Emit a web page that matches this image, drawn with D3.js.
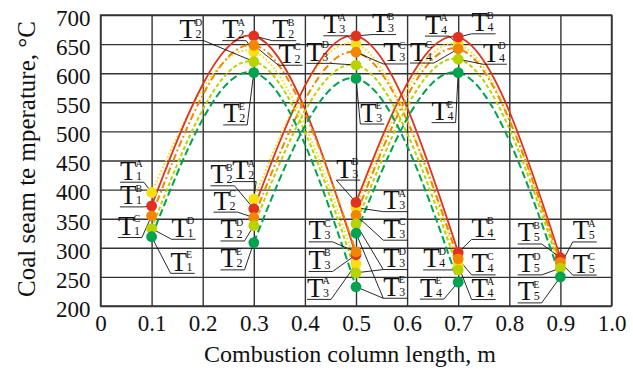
<!DOCTYPE html>
<html><head><meta charset="utf-8">
<script src="https://cdn.jsdelivr.net/npm/d3@7"></script>
<style>
body{margin:0;background:#fff}
svg{display:block}
svg text{font-family:"Liberation Serif","Times New Roman","DejaVu Serif",serif !important;}
</style>
</head><body><svg id="c" width="633" height="370"></svg>
<script>
// ---- data ----
const xTicks = [0, 0.1, 0.2, 0.3, 0.4, 0.5, 0.6, 0.7, 0.8, 0.9, 1.0];
const xTickLabels = ["0", "0.1", "0.2", "0.3", "0.4", "0.5", "0.6", "0.7", "0.8", "0.9", "1.0"];
const yTicks = [200, 250, 300, 350, 400, 450, 500, 550, 600, 650, 700];
const segmentX = [[0.1, 0.3, 0.5], [0.3, 0.5, 0.7], [0.5, 0.7, 0.9]];
const seriesKeys = ["A", "B", "C", "D", "E"];
// each series: values for segment 1, 2, 3 (start, peak, end)
const seriesA = [[395, 637, 272], [384, 650, 270], [369, 650, 270]];
const seriesB = [[372, 664, 288], [367, 664, 292], [378, 662, 283]];
const seriesC = [[355, 648, 293], [352, 636, 281], [356, 642, 275]];
const seriesD = [[333, 620, 257], [338, 614, 262], [341, 624, 265]];
const seriesE = [[319, 601, 233], [309, 591, 241], [325, 601, 250]];
const seriesValues = {A: seriesA, B: seriesB, C: seriesC, D: seriesD, E: seriesE};

// ---- styles ----
const colors = {A: "#f9df10", B: "#e2321f", C: "#f18700", D: "#b8d300", E: "#00a34f"};
const dashes = {A: "1.6,2.2", B: null, C: "7,3,1.8,3", D: "4,2.5", E: "7.5,3.5"};
const widths = {A: 2, B: 1.8, C: 2, D: 2, E: 2};

// annotation layout: [series, segment, pointIndex, number, dx, dy, leaderSide, extraTargets]
const labels = [
  ["A",0,0,1,-31.7,-10.3,"r"], ["B",0,0,1,-31.7,1,"r"], ["C",0,0,1,-33.7,21.7,"r"],
  ["D",0,0,1,20,10.7,"l"], ["E",0,0,1,19,36.6,"l"],
  ["D",0,1,2,-74.3,-21,"r"], ["A",0,1,2,-31.6,-11,"r"], ["B",0,1,2,18.4,4.7,"l"],
  ["C",0,1,2,24.7,20,"l"], ["E",0,1,2,-30.6,52.3,"r"],
  ["C",0,2,3,-47.4,-10,"r"], ["B",0,2,3,-47.4,16.7,"r"], ["A",0,2,3,-49,35.3,"r"],
  ["A",1,0,2,-21.6,-17.3,"r"], ["B",1,0,2,-43.3,-23,"r"], ["C",1,0,2,-40.3,-5.4,"r"],
  ["D",1,0,2,-33.3,15.3,"r"], ["E",1,0,2,-33.3,27.3,"r"],
  ["A",1,1,3,-32.7,-8.3,"r"], ["B",1,1,3,16,-1.4,"l"], ["C",1,1,3,27.3,11.7,"l"],
  ["D",1,1,3,-49.7,-1.7,"r"], ["E",1,1,3,4.3,45.6,"l"],
  ["B",1,2,4,13.4,-13,"l"], ["C",1,2,4,13.4,16,"l"], ["A",1,2,4,13.4,34.3,"l"],
  ["D",1,2,4,-35,0,"r"], ["E",1,2,4,-38.3,17,"r"],
  ["B",2,0,3,-19.7,-22.3,"l"], ["A",2,0,3,27.3,4,"l"], ["C",2,0,3,27.3,25,"l"],
  ["D",2,0,3,27.3,45.6,"l",[["D",0,2]]], ["E",2,0,3,27.3,65,"l",[["E",0,2]]],
  ["A",2,1,4,-33.3,-8,"r"], ["B",2,1,4,13.4,-3.3,"l"], ["C",2,1,4,-48.3,14.3,"r"],
  ["D",2,1,4,24.7,5,"l"], ["E",2,1,4,-26.6,50,"r"],
  ["B",2,2,5,-42.7,-13.7,"r"], ["A",2,2,5,12.3,-23.3,"l"], ["D",2,2,5,-42.7,6.7,"r"],
  ["C",2,2,5,12.3,12.7,"l"], ["E",2,2,5,-42.7,26,"r"]
];

// ---- chart ----
const svg = d3.select("#c");
const x = d3.scaleLinear().domain([0, 1]).range([100.5, 611.5]);
const y = d3.scaleLinear().domain([200, 700]).range([306, 15]);
const plotW = x(1) - x(0), plotH = y(200) - y(700);

// grid + axes
const gx = svg.append("g").attr("transform", `translate(0,${y(200)})`)
  .call(d3.axisBottom(x).tickValues(xTicks).tickFormat((d, i) => xTickLabels[i])
    .tickSize(-plotH).tickPadding(9));
const gy = svg.append("g").attr("transform", `translate(${x(0)},0)`)
  .call(d3.axisLeft(y).tickValues(yTicks).tickSize(-plotW).tickPadding(10));
[gx, gy].forEach(g => {
  g.attr("font-family", null);
  g.select(".domain").remove();
  g.selectAll(".tick line").attr("stroke", "#333").attr("stroke-width", 1.4);
  g.selectAll(".tick text").attr("font-size", 23).attr("fill", "#111");
});
gy.selectAll(".tick text").attr("dy", "0.45em");
svg.append("rect").attr("x", x(0)).attr("y", y(700)).attr("width", plotW).attr("height", plotH)
  .attr("fill", "none").attr("stroke", "#333").attr("stroke-width", 1.4);

// titles
svg.append("text").attr("x", 350).attr("y", 362).attr("text-anchor", "middle")
  .attr("font-size", 24).attr("fill", "#111")
  .text("Combustion column length, m");
svg.append("text").attr("transform", "translate(35,159) rotate(-90)").attr("text-anchor", "middle")
  .attr("font-size", 25).attr("fill", "#111")
  .text("Coal seam te mperature, °C");

// curves
const line = d3.line().x(d => x(d[0])).y(d => y(d[1])).curve(d3.curveNatural);
const curveG = svg.append("g");
seriesKeys.forEach(k => {
  seriesValues[k].forEach((vals, s) => {
    const pts = vals.map((v, i) => [segmentX[s][i], v]);
    curveG.append("path").attr("d", line(pts)).attr("fill", "none")
      .attr("stroke", colors[k]).attr("stroke-width", widths[k])
      .attr("stroke-dasharray", dashes[k]);
  });
});

// helper: point location
const pos = (k, s, i) => [x(segmentX[s][i]), y(seriesValues[k][s][i])];

// leaders + labels
const annG = svg.append("g");
const W = 24;
labels.forEach(l => {
  const [k, s, i, num, dx, dy, side, extra] = l;
  const [px, py] = pos(k, s, i);
  const lx = px + dx, ly = py + dy;
  const ex = side === "l" ? lx : lx + W;
  const targets = [[k, s, i]].concat(extra || []);
  targets.forEach(t => {
    const [tx, ty] = pos(t[0], t[1], t[2]);
    annG.append("line").attr("x1", ex).attr("y1", ly).attr("x2", tx).attr("y2", ty)
      .attr("stroke", "#111").attr("stroke-width", 0.9);
  });
  annG.append("line").attr("x1", lx).attr("y1", ly).attr("x2", lx + W).attr("y2", ly)
    .attr("stroke", "#111").attr("stroke-width", 0.9);
  annG.append("text").attr("x", lx).attr("y", ly - 2.5)
    .attr("font-size", 27).attr("fill", "#111").text("T");
  annG.append("text").attr("x", lx + 15.5).attr("y", ly - 15)
    .attr("font-size", 10).attr("fill", "#111").text(k);
  annG.append("text").attr("x", lx + 16).attr("y", ly - 2.5)
    .attr("font-size", 12).attr("fill", "#111").text(num);
});

// dots
const dotG = svg.append("g");
seriesKeys.forEach(k => {
  seriesValues[k].forEach((vals, s) => {
    vals.forEach((v, i) => {
      dotG.append("circle").attr("cx", x(segmentX[s][i])).attr("cy", y(v)).attr("r", 5.4)
        .attr("fill", colors[k]);
    });
  });
});
</script>
</body></html>
